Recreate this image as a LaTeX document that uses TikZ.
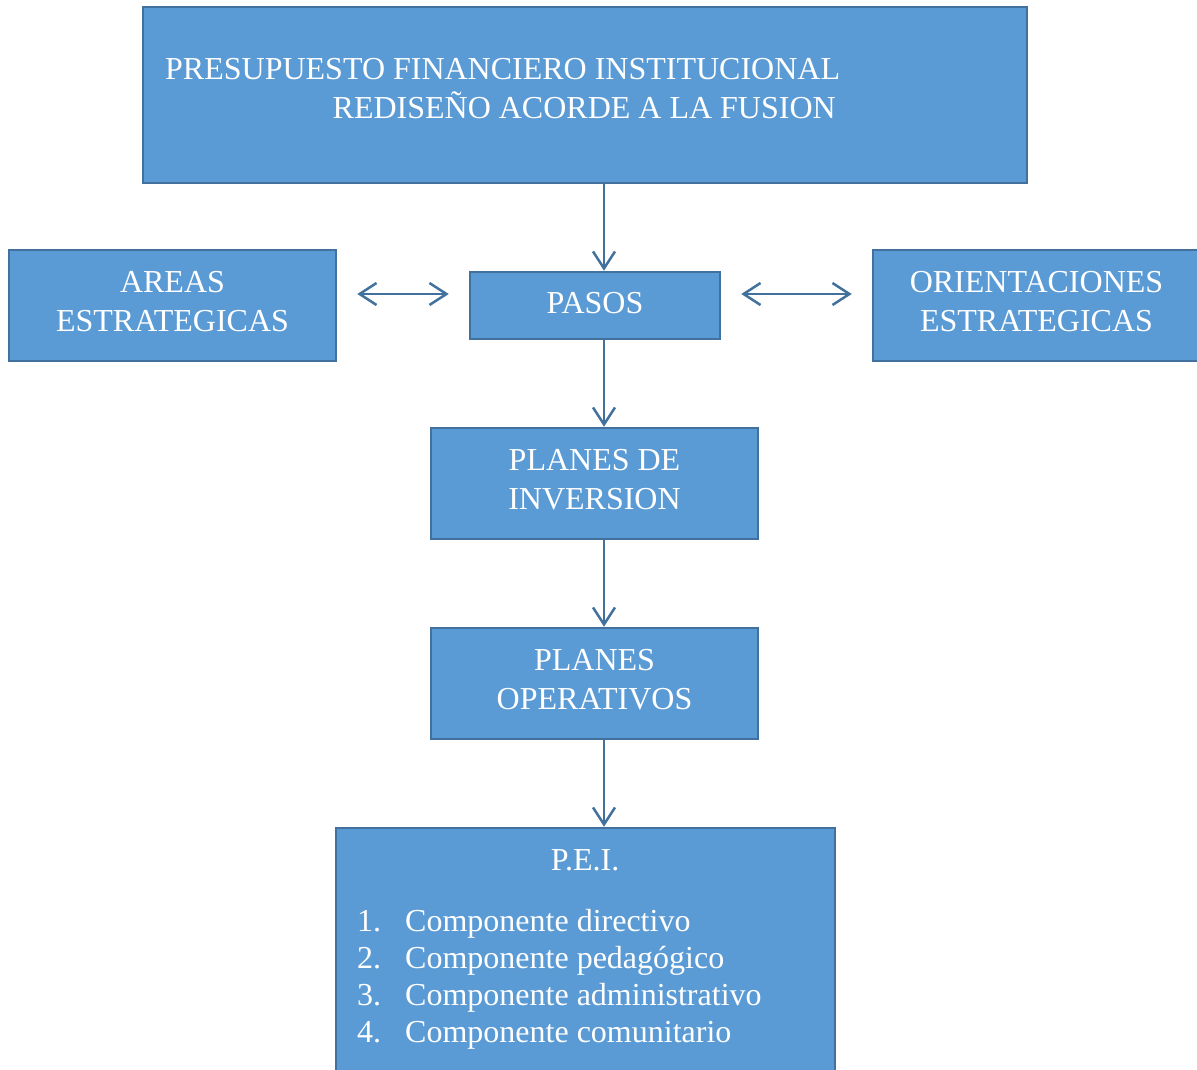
\documentclass[tikz,border=0pt]{standalone}
\usepackage{fontspec}
\setmainfont{Liberation Serif}
\usetikzlibrary{arrows.meta}
\definecolor{boxfill}{HTML}{5B9BD5}
\definecolor{boxline}{HTML}{41719C}
\tikzset{
  box/.style={draw=boxline, fill=boxfill, line width=2.5pt, rectangle, inner sep=0pt, text=white,
    font=\fontsize{32}{39}\selectfont, align=center},
  twoline/.style={text depth=8pt},
  oneline/.style={text depth=13pt},
  txt/.style={text=white, inner sep=0pt, font=\fontsize{32}{39}\selectfont},
  arr/.style={draw=boxline, line width=2.5pt, -{Straight Barb[length=17pt,width=22pt,line width=2.5pt]}},
  dbl/.style={draw=boxline, line width=2.5pt, {Straight Barb[length=17pt,width=22pt,line width=2.5pt]}-{Straight Barb[length=17pt,width=22pt,line width=2.5pt]}, shorten <=20pt, shorten >=20pt}
}
\begin{document}
\begin{tikzpicture}[x=1pt,y=-1pt]
\useasboundingbox (0,0) rectangle (1197,1070);
\clip (0,0) rectangle (1197,1070);
\node[box, minimum width=884pt, minimum height=176pt] (top) at (585,95) {};
\node[txt, anchor=base west] (t1) at (165,80) {PRESUPUESTO FINANCIERO INSTITUCIONAL};
\node[txt, anchor=base east] (t2) at (836,119) {REDISEÑO ACORDE A LA FUSION};
\node[box, twoline, minimum width=327pt, minimum height=111pt] (areas) at (172.5,305.5) {AREAS\\ESTRATEGICAS};
\node[box, minimum width=250pt, minimum height=67pt, text height=22pt, text depth=6pt] (pasos) at (595,305.5) {PASOS};
\node[box, twoline, minimum width=327pt, minimum height=111pt] (orient) at (1036.5,305.5) {ORIENTACIONES\\ESTRATEGICAS};
\node[box, twoline, minimum width=327pt, minimum height=111pt] (inv) at (594.5,483.5) {PLANES DE\\INVERSION};
\node[box, twoline, minimum width=327pt, minimum height=111pt] (ope) at (594.5,683.5) {PLANES\\OPERATIVOS};
\node[box, minimum width=499pt, minimum height=272pt] (pei) at (585.5,964) {};
\node[txt, anchor=base] (peititle) at (585,870) {P.E.I.};
\node[txt, anchor=base west, align=left, font=\fontsize{32}{37}\selectfont] (peilist) at (357,931)
  {\begin{tabular}[t]{@{}l@{\hspace{24pt}}l@{}}
   1. & Componente directivo\\
   2. & Componente pedagógico\\
   3. & Componente administrativo\\
   4. & Componente comunitario
   \end{tabular}};
\coordinate (ax) at (604,0);
\coordinate (ay) at (0,294);
\draw[arr] (ax |- top.south) -- (ax |- pasos.north);
\draw[arr] (ax |- pasos.south) -- (ax |- inv.north);
\draw[arr] (ax |- inv.south) -- (ax |- ope.north);
\draw[arr] (ax |- ope.south) -- (ax |- pei.north);
\draw[dbl] (areas.east |- ay) -- (pasos.west |- ay);
\draw[dbl] (pasos.east |- ay) -- (orient.west |- ay);
\end{tikzpicture}
\end{document}
